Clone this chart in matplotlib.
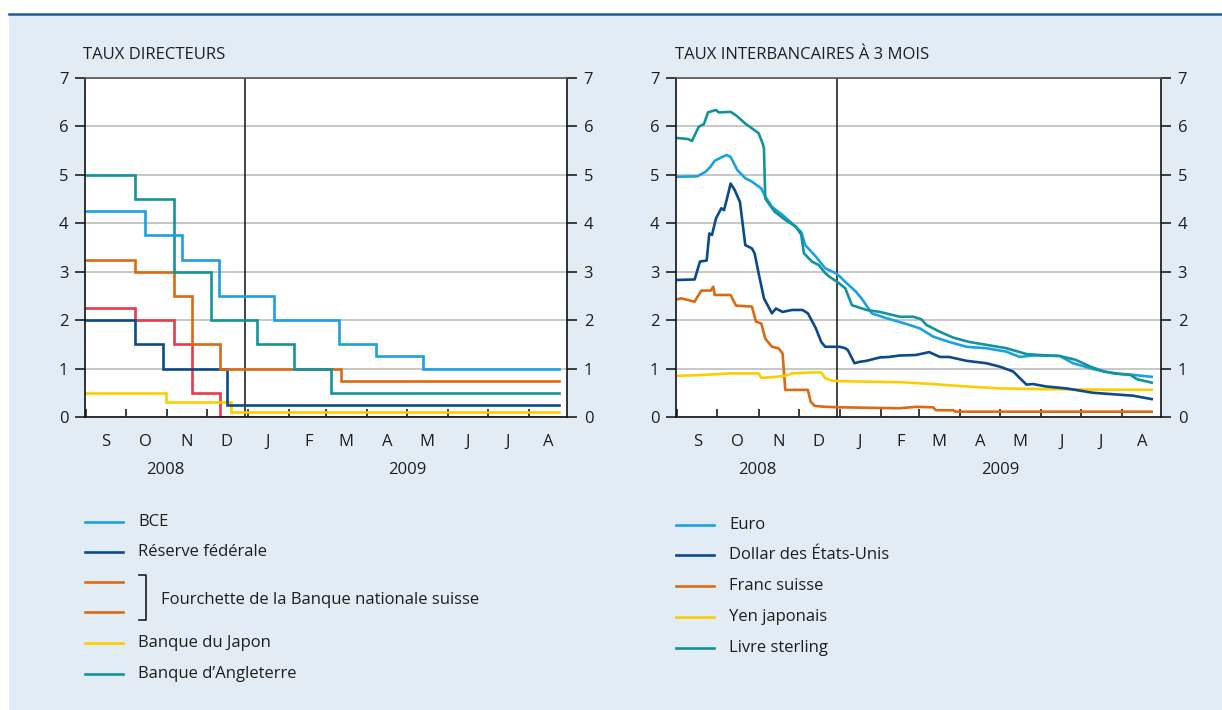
import matplotlib
matplotlib.use("Agg")
import matplotlib.pyplot as plt
import matplotlib.dates as mdates
from matplotlib.lines import Line2D
from matplotlib.patches import Rectangle
from matplotlib.ticker import FuncFormatter
import pandas as pd

W, H = 1222, 710
BG_COLOR = '#e2ecf4'
TEXT_COLOR = '#1e1e1e'
GRID_COLOR = '#bdbdbd'
FS = 12

C_LIGHT = '#1ba1e2'
C_DARK = '#0b4b8c'
C_ORANGE = '#dc6a12'
C_RED = '#e83a48'
C_YELLOW = '#ffcc00'
C_TEAL = '#13939c'

plt.rcParams['font.family'] = ['Open Sans', 'DejaVu Sans']
plt.rcParams['font.size'] = FS

MONTH_LETTERS = ['J', 'F', 'M', 'A', 'M', 'J', 'J', 'A', 'S', 'O', 'N', 'D']

# ---- Taux directeurs (step series: change dates and new levels) ----
END_DATE = '2009-08-24'

bce_dates = ['2008-08-31', '2008-10-15', '2008-11-12', '2008-12-10', '2009-01-21',
             '2009-03-11', '2009-04-08', '2009-05-13']
bce_vals = [4.25, 3.75, 3.25, 2.5, 2.0, 1.5, 1.25, 1.0]

fed_dates = ['2008-08-31', '2008-10-08', '2008-10-29', '2008-12-16']
fed_vals = [2.0, 1.5, 1.0, 0.25]

snb_hi_dates = ['2008-08-31', '2008-10-08', '2008-11-06', '2008-11-20', '2008-12-11', '2009-03-12']
snb_hi_vals = [3.25, 3.0, 2.5, 1.5, 1.0, 0.75]

snb_lo_dates = ['2008-08-31', '2008-10-08', '2008-11-06', '2008-11-20', '2008-12-11']
snb_lo_vals = [2.25, 2.0, 1.5, 0.5, 0.0]

boj_dates = ['2008-08-31', '2008-10-31', '2008-12-19']
boj_vals = [0.5, 0.3, 0.1]

boe_dates = ['2008-08-31', '2008-10-08', '2008-11-06', '2008-12-04', '2009-01-08',
             '2009-02-05', '2009-03-05']
boe_vals = [5.0, 4.5, 3.0, 2.0, 1.5, 1.0, 0.5]

# ---- Taux interbancaires a 3 mois ----
eur_dates = ['2008-09-01', '2008-09-16', '2008-09-22', '2008-09-26', '2008-09-29', '2008-10-04',
             '2008-10-08', '2008-10-11', '2008-10-16', '2008-10-22', '2008-10-27', '2008-11-03',
             '2008-11-06', '2008-11-11', '2008-11-19', '2008-11-26', '2008-12-03', '2008-12-06',
             '2008-12-14', '2008-12-21', '2008-12-29', '2009-01-01', '2009-01-05', '2009-01-13',
             '2009-01-18', '2009-01-25', '2009-02-05', '2009-02-20', '2009-03-02', '2009-03-12',
             '2009-03-24', '2009-04-06', '2009-04-21', '2009-05-06', '2009-05-16', '2009-05-26',
             '2009-06-15', '2009-06-25', '2009-07-10', '2009-07-25', '2009-08-09', '2009-08-23']
eur_vals = [4.96, 4.97, 5.06, 5.17, 5.29, 5.36, 5.41, 5.37, 5.10, 4.93, 4.86, 4.72,
            4.55, 4.34, 4.17, 4.00, 3.82, 3.55, 3.31, 3.07, 2.97, 2.90, 2.79, 2.59,
            2.42, 2.14, 2.04, 1.92, 1.83, 1.66, 1.55, 1.45, 1.42, 1.35, 1.24, 1.27,
            1.26, 1.11, 0.99, 0.90, 0.87, 0.83]

usd_dates = ['2008-09-01', '2008-09-14', '2008-09-18', '2008-09-23', '2008-09-25', '2008-09-27',
             '2008-09-30', '2008-10-04', '2008-10-06', '2008-10-08', '2008-10-11', '2008-10-14',
             '2008-10-18', '2008-10-22', '2008-10-27', '2008-10-29', '2008-11-01', '2008-11-05',
             '2008-11-11', '2008-11-14', '2008-11-19', '2008-11-26', '2008-12-04', '2008-12-08',
             '2008-12-14', '2008-12-18', '2008-12-21', '2008-12-29', '2009-01-01', '2009-01-05',
             '2009-01-07', '2009-01-12', '2009-01-16', '2009-01-21', '2009-01-31', '2009-02-07',
             '2009-02-15', '2009-02-27', '2009-03-09', '2009-03-17', '2009-03-24', '2009-04-06',
             '2009-04-21', '2009-05-01', '2009-05-11', '2009-05-21', '2009-05-26', '2009-06-05',
             '2009-06-20', '2009-07-10', '2009-07-25', '2009-08-09', '2009-08-23']
usd_vals = [2.83, 2.84, 3.21, 3.23, 3.79, 3.76, 4.10, 4.31, 4.27, 4.48, 4.82, 4.69,
            4.44, 3.55, 3.48, 3.38, 2.97, 2.45, 2.14, 2.24, 2.17, 2.21, 2.21, 2.14,
            1.83, 1.55, 1.45, 1.45, 1.45, 1.42, 1.38, 1.11, 1.14, 1.16, 1.23, 1.24,
            1.27, 1.28, 1.34, 1.24, 1.24, 1.16, 1.11, 1.04, 0.94, 0.67, 0.68, 0.63,
            0.59, 0.50, 0.47, 0.44, 0.37]

chf_dates = ['2008-09-01', '2008-09-04', '2008-09-14', '2008-09-16', '2008-09-17', '2008-09-19',
             '2008-09-26', '2008-09-28', '2008-09-29', '2008-10-11', '2008-10-15', '2008-10-27',
             '2008-10-30', '2008-11-03', '2008-11-06', '2008-11-11', '2008-11-16', '2008-11-19',
             '2008-11-21', '2008-12-08', '2008-12-10', '2008-12-13', '2008-12-21', '2009-01-01',
             '2009-02-15', '2009-02-27', '2009-03-12', '2009-03-14', '2009-03-27', '2009-03-29',
             '2009-08-23']
chf_vals = [2.43, 2.45, 2.38, 2.48, 2.52, 2.61, 2.61, 2.69, 2.52, 2.52, 2.30, 2.28,
            1.97, 1.93, 1.62, 1.45, 1.42, 1.31, 0.56, 0.56, 0.32, 0.23, 0.21, 0.20,
            0.18, 0.21, 0.20, 0.14, 0.14, 0.11, 0.11]

jpy_dates = ['2008-09-01', '2008-09-22', '2008-10-10', '2008-11-01', '2008-11-03', '2008-11-11',
             '2008-11-21', '2008-11-26', '2008-12-11', '2008-12-18', '2008-12-21', '2008-12-26',
             '2009-01-01', '2009-01-21', '2009-02-15', '2009-03-12', '2009-04-01', '2009-05-01',
             '2009-06-20', '2009-08-23']
jpy_vals = [0.85, 0.87, 0.90, 0.90, 0.81, 0.82, 0.85, 0.90, 0.92, 0.92, 0.80, 0.75,
            0.74, 0.73, 0.72, 0.68, 0.64, 0.59, 0.57, 0.56]

gbp_dates = ['2008-09-01', '2008-09-09', '2008-09-12', '2008-09-17', '2008-09-21', '2008-09-24',
             '2008-09-30', '2008-10-02', '2008-10-11', '2008-10-15', '2008-10-22', '2008-10-27',
             '2008-11-01', '2008-11-04', '2008-11-05', '2008-11-06', '2008-11-13', '2008-11-21',
             '2008-11-29', '2008-12-03', '2008-12-05', '2008-12-11', '2008-12-16', '2008-12-21',
             '2008-12-24', '2008-12-30', '2009-01-05', '2009-01-10', '2009-01-21', '2009-01-31',
             '2009-02-15', '2009-02-25', '2009-03-03', '2009-03-07', '2009-03-17', '2009-03-27',
             '2009-04-08', '2009-04-21', '2009-05-06', '2009-05-21', '2009-05-31', '2009-06-15',
             '2009-06-27', '2009-07-08', '2009-07-18', '2009-07-30', '2009-08-07', '2009-08-12',
             '2009-08-23']
gbp_vals = [5.76, 5.74, 5.70, 5.99, 6.05, 6.29, 6.34, 6.29, 6.30, 6.23, 6.06, 5.96,
            5.86, 5.65, 5.55, 4.51, 4.24, 4.07, 3.93, 3.76, 3.38, 3.21, 3.14, 2.97,
            2.90, 2.79, 2.66, 2.31, 2.21, 2.17, 2.07, 2.07, 2.02, 1.90, 1.76, 1.64,
            1.55, 1.49, 1.42, 1.30, 1.28, 1.26, 1.18, 1.04, 0.94, 0.89, 0.87, 0.78,
            0.71]

XMIN, XMAX = pd.Timestamp('2008-08-31'), pd.Timestamp('2009-08-30')
YEAR_LINE = pd.Timestamp('2008-12-30')
LW = 1.9


def fx(x):
    return x / W


def fy(y):
    return 1 - y / H


def step(ax, dates, vals, color):
    d = list(pd.to_datetime(dates)) + [pd.Timestamp(END_DATE)]
    v = list(vals) + [vals[-1]]
    ax.plot(d, v, drawstyle='steps-post', color=color, lw=LW, solid_joinstyle='miter')


def style_axes(ax):
    ax.set_facecolor('white')
    ax.set_xlim(XMIN, XMAX)
    ax.set_ylim(0, 7)
    ax.set_yticks(range(0, 8))
    ax.tick_params(axis='y', which='both', left=True, right=True, labelleft=True,
                   labelright=True, direction='out', length=7, width=1.2,
                   colors=TEXT_COLOR, labelsize=FS, pad=5)
    ax.yaxis.grid(True, color=GRID_COLOR, lw=1.2)
    ax.set_axisbelow(True)
    ax.xaxis.set_major_locator(mdates.MonthLocator())
    ax.xaxis.set_major_formatter(FuncFormatter(lambda v, p: ''))
    ax.xaxis.set_minor_locator(mdates.MonthLocator(bymonthday=16))
    ax.xaxis.set_minor_formatter(
        FuncFormatter(lambda v, p: MONTH_LETTERS[mdates.num2date(v).month - 1]))
    ax.tick_params(axis='x', which='major', direction='in', length=6, width=1.2,
                   color=TEXT_COLOR)
    ax.tick_params(axis='x', which='minor', length=0, pad=12, labelsize=FS,
                   labelcolor=TEXT_COLOR)
    for s in ['left', 'right', 'bottom']:
        ax.spines[s].set_color('#111111')
        ax.spines[s].set_linewidth(1.2)
    ax.spines['top'].set_color('#555555')
    ax.spines['top'].set_linewidth(1.2)
    ax.axvline(YEAR_LINE, color='#111111', lw=1.1, zorder=1.5)
    trans = ax.get_xaxis_transform()
    ax.text(pd.Timestamp('2008-10-31'), -0.157, '2008', transform=trans, ha='center',
            va='center', fontsize=FS, color=TEXT_COLOR)
    ax.text(pd.Timestamp('2009-05-01'), -0.157, '2009', transform=trans, ha='center',
            va='center', fontsize=FS, color=TEXT_COLOR)


fig = plt.figure(figsize=(W / 100, H / 100), dpi=100)
fig.patch.set_facecolor('white')
fig.add_artist(Rectangle((fx(9), 0), 1 - fx(9), fy(14),
                         transform=fig.transFigure, facecolor=BG_COLOR, edgecolor='none',
                         zorder=0))
fig.add_artist(Line2D([fx(9), 1], [fy(14), fy(14)], transform=fig.transFigure,
                      color='#1f5a9e', lw=1.8))

ax1 = fig.add_axes([fx(85), fy(417), fx(567 - 85), (417 - 78) / H])
ax2 = fig.add_axes([fx(676), fy(417), fx(1161 - 676), (417 - 78) / H])
style_axes(ax1)
style_axes(ax2)

# left panel: policy rates
step(ax1, snb_lo_dates, snb_lo_vals, C_RED)
step(ax1, boj_dates, boj_vals, C_YELLOW)
step(ax1, fed_dates, fed_vals, C_DARK)
step(ax1, snb_hi_dates, snb_hi_vals, C_ORANGE)
step(ax1, boe_dates, boe_vals, C_TEAL)
step(ax1, bce_dates, bce_vals, C_LIGHT)

# right panel: 3-month interbank rates
ax2.plot(pd.to_datetime(chf_dates), chf_vals, color=C_ORANGE, lw=LW)
ax2.plot(pd.to_datetime(jpy_dates), jpy_vals, color=C_YELLOW, lw=LW)
ax2.plot(pd.to_datetime(usd_dates), usd_vals, color=C_DARK, lw=LW)
ax2.plot(pd.to_datetime(eur_dates), eur_vals, color=C_LIGHT, lw=LW)
ax2.plot(pd.to_datetime(gbp_dates), gbp_vals, color=C_TEAL, lw=LW)

fig.text(fx(83), fy(55), 'TAUX DIRECTEURS', ha='left', va='center', fontsize=FS,
         color=TEXT_COLOR)
fig.text(fx(675), fy(55), 'TAUX INTERBANCAIRES À 3 MOIS', ha='left', va='center',
         fontsize=FS, color=TEXT_COLOR)

# legends
left_legend = [('BCE', C_LIGHT, 522), ('Réserve fédérale', C_DARK, 552),
               (None, C_ORANGE, 582), (None, C_ORANGE, 612),
               ('Banque du Japon', C_YELLOW, 643), ('Banque d\u2019Angleterre', C_TEAL, 674)]
for label, color, y in left_legend:
    fig.add_artist(Line2D([fx(85), fx(123)], [fy(y), fy(y)], transform=fig.transFigure,
                          color=color, lw=LW))
    if label:
        fig.text(fx(138), fy(y), label, ha='left', va='center', fontsize=FS,
                 color=TEXT_COLOR)
fig.add_artist(Line2D([fx(139), fx(146), fx(146), fx(139)],
                      [fy(575), fy(575), fy(620), fy(620)], transform=fig.transFigure,
                      color=TEXT_COLOR, lw=1.2))
fig.text(fx(161), fy(600), 'Fourchette de la Banque nationale suisse', ha='left',
         va='center', fontsize=FS, color=TEXT_COLOR)

right_legend = [('Euro', C_LIGHT, 525), ('Dollar des États-Unis', C_DARK, 555),
                ('Franc suisse', C_ORANGE, 586), ('Yen japonais', C_YELLOW, 617),
                ('Livre sterling', C_TEAL, 648)]
for label, color, y in right_legend:
    fig.add_artist(Line2D([fx(676), fx(714)], [fy(y), fy(y)], transform=fig.transFigure,
                          color=color, lw=LW))
    fig.text(fx(729), fy(y), label, ha='left', va='center', fontsize=FS, color=TEXT_COLOR)

fig.savefig('out.png', dpi=100, facecolor=fig.get_facecolor())
